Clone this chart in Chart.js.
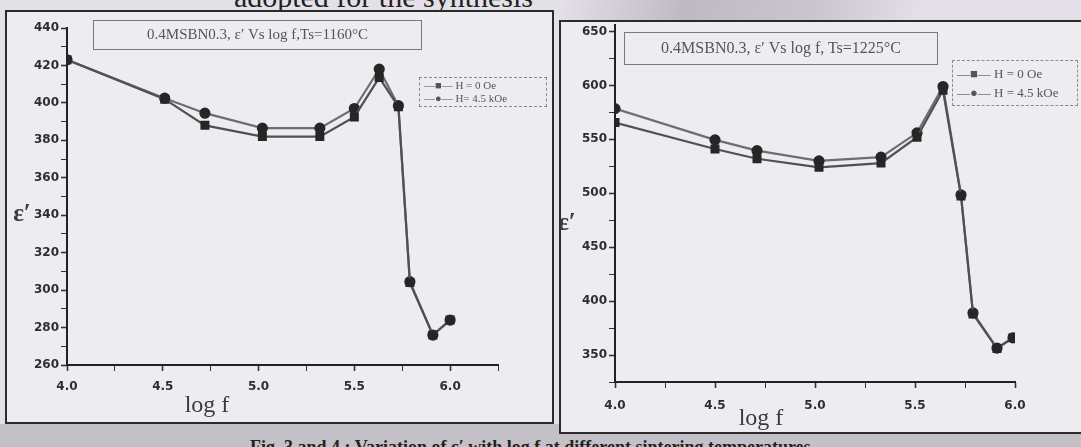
<!DOCTYPE html>
<html>
<head>
<meta charset="utf-8">
<script src="https://cdn.jsdelivr.net/npm/chart.js@4"></script>
<style>
  body { margin:0; width:1081px; height:447px; overflow:hidden; position:relative;
         background:#e3e1e7; font-family:"Liberation Serif", serif; }
  .panel { position:absolute; box-sizing:border-box; border:2px solid #2b2b2b; background:#edecf1; }
  .cv { position:absolute; top:0; }
  .tbox { position:absolute; box-sizing:border-box; border:1.5px solid #7a7a7a; color:#555;
          font-size:15px; text-align:center; white-space:nowrap; }
  .leg { position:absolute; box-sizing:border-box; border:1.5px dashed #8a8a8a; color:#555;
         font-size:11px; line-height:13px; padding:1px 0 0 4px; white-space:nowrap; overflow:hidden; }
  .lbl { position:absolute; color:#3a3a3a; white-space:nowrap; transform:translate(-50%,-50%); }
</style>
</head>
<body>
<div style="position:absolute; left:0; top:424px; width:1081px; height:23px; background:#c3c1c7;"></div>
<div style="position:absolute; left:560px; top:0; width:360px; height:22px; background:linear-gradient(100deg, #e3e1e7 0%, #bdbbc1 35%, #c9c7cd 70%, #e3e1e7 100%);"></div>
<div style="position:absolute; right:548px; top:-17px; font-size:30px; color:#222; white-space:nowrap; line-height:28px;">adopted for the synthesis</div>
<div style="position:absolute; left:250px; top:437px; font-size:18px; font-weight:bold; color:#222; white-space:nowrap;">Fig. 3 and 4 : Variation of ε′ with log f at different sintering temperatures</div>

<div class="panel" style="left:5px; top:10px; width:549px; height:414px;"></div>
<div class="panel" style="left:559px; top:20px; width:540px; height:414px;"></div>

<div class="cv" style="left:0; width:553px; height:447px;"><canvas id="c1160" width="553" height="447"></canvas></div>
<div class="cv" style="left:556px; width:525px; height:447px;"><canvas id="c1225" width="525" height="447"></canvas></div>

<div class="tbox" style="left:93px; top:20px; width:329px; height:30px; line-height:27px;">0.4MSBN0.3, ε′ Vs log f,Ts=1160°C</div>
<div class="tbox" style="left:624px; top:32px; width:314px; height:33px; line-height:30px; font-size:16px;">0.4MSBN0.3, ε′ Vs log f, Ts=1225°C</div>

<div class="leg" style="left:419px; top:77px; width:128px; height:30px;">
  <div>—■— H = 0 Oe</div><div>—●— H= 4.5 kOe</div>
</div>
<div class="leg" style="left:952px; top:60px; width:126px; height:46px; font-size:13px; line-height:19px; padding-top:3px;">
  <div>—■— H = 0 Oe</div><div>—●— H = 4.5 kOe</div>
</div>

<div class="lbl" style="left:22px; top:213px; font-size:25px; font-weight:bold;">ε′</div>
<div class="lbl" style="left:567px; top:222px; font-size:25px; font-weight:bold;">ε′</div>
<div class="lbl" style="left:207px; top:404px; font-size:24px;">log f</div>
<div class="lbl" style="left:761px; top:417px; font-size:24px;">log f</div>

<script>
// log f values
var logF1160 = [4.0, 4.51, 4.72, 5.02, 5.32, 5.5, 5.63, 5.73, 5.79, 5.91, 6.0];
var eps1160_H0 = [423, 402, 388, 382, 382, 392.5, 413.5, 398, 304, 276, 284];
var eps1160_H45 = [423, 402.5, 394.5, 386.5, 386.5, 397, 418, 398.5, 304.5, 276, 284];

var logF1225 = [4.0, 4.5, 4.71, 5.02, 5.33, 5.51, 5.64, 5.73, 5.79, 5.91, 5.99];
var eps1225_H0 = [565.5, 541, 532, 524, 528, 552, 595.5, 497.5, 388, 356, 366];
var eps1225_H45 = [578.5, 549.5, 539.5, 530, 533.5, 556, 599, 498.5, 389, 356.5, 366];

var seriesNames = ['H = 0 Oe', 'H = 4.5 kOe'];

function pts(xs, ys){
  var out = [];
  for(let i=0; i<xs.length; i++){
    out.push({x: xs[i], y: ys[i]});
  }
  return out;
}

function isMult(v, m){
  var q = v / m;
  return Math.abs(q - Math.round(q)) < 1e-6;
}

function makeChart(id, xs, h0, h45, o){
  const ctx = document.getElementById(id).getContext('2d');
  return new Chart(ctx, {
    type: 'line',
    data: {
      datasets: [{
        label: seriesNames[0],
        data: pts(xs, h0),
        borderColor: '#505050',
        borderWidth: 2.2,
        pointStyle: 'rect',
        pointRadius: 4.8,
        pointBackgroundColor: '#262626',
        pointBorderColor: '#262626',
        clip: 0,
      },{
        label: seriesNames[1],
        data: pts(xs, h45),
        borderColor: '#6e6e6e',
        borderWidth: 2.2,
        pointStyle: 'circle',
        pointRadius: 4.5,
        pointBackgroundColor: '#262626',
        pointBorderColor: '#262626',
        clip: 0,
      }]
    },
    options: {
      responsive: false,
      animation: false,
      layout: { padding: o.pad },
      plugins: { legend: { display: false }, tooltip: { enabled: false } },
      scales: {
        x: {
          type: 'linear',
          min: 4.0,
          max: o.xMax,
          afterFit: function(s){ s.height = 30; },
          border: { display: true, color: '#222', width: 2 },
          grid: { drawOnChartArea: false, drawTicks: true, tickLength: 6, color: '#333',
                  tickWidth: function(c){ return isMult(c.tick.value, 0.5) ? 1.6 : 1; } },
          ticks: {
            stepSize: 0.25,
            autoSkip: false,
            maxRotation: 0,
            padding: o.xPad,
            color: '#2e2e2e',
            font: { family: 'DejaVu Sans', weight: 'bold', size: 12 },
            callback: function(v){
              return (isMult(v, 0.5) && v <= 6.001) ? v.toFixed(1) : '';
            }
          }
        },
        y: {
          min: o.yMin,
          max: o.yMax,
          afterFit: function(s){ s.width = o.yW; },
          border: { display: true, color: '#222', width: 2 },
          grid: { drawOnChartArea: false, drawTicks: true, tickLength: 6, color: '#333',
                  tickWidth: function(c){ return isMult(c.tick.value, o.yStep) ? 1.6 : 1; } },
          ticks: {
            stepSize: o.yStep / 2,
            includeBounds: false,
            autoSkip: false,
            padding: 2,
            color: '#2e2e2e',
            font: { family: 'DejaVu Sans', weight: 'bold', size: 12 },
            callback: function(v){ return isMult(v, o.yStep) ? v : ''; }
          }
        }
      }
    }
  });
}

makeChart('c1160', logF1160, eps1160_H0, eps1160_H45, {
  pad: { left: 0, top: 28, right: 55, bottom: 52 },
  xMax: 6.25, xPad: 9, yMin: 260, yMax: 440, yStep: 20, yW: 67
});

makeChart('c1225', logF1225, eps1225_H0, eps1225_H45, {
  pad: { left: 0, top: 25, right: 66, bottom: 35 },
  xMax: 6.0, xPad: 11, yMin: 325, yMax: 656, yStep: 50, yW: 59
});
</script>
</body>
</html>
